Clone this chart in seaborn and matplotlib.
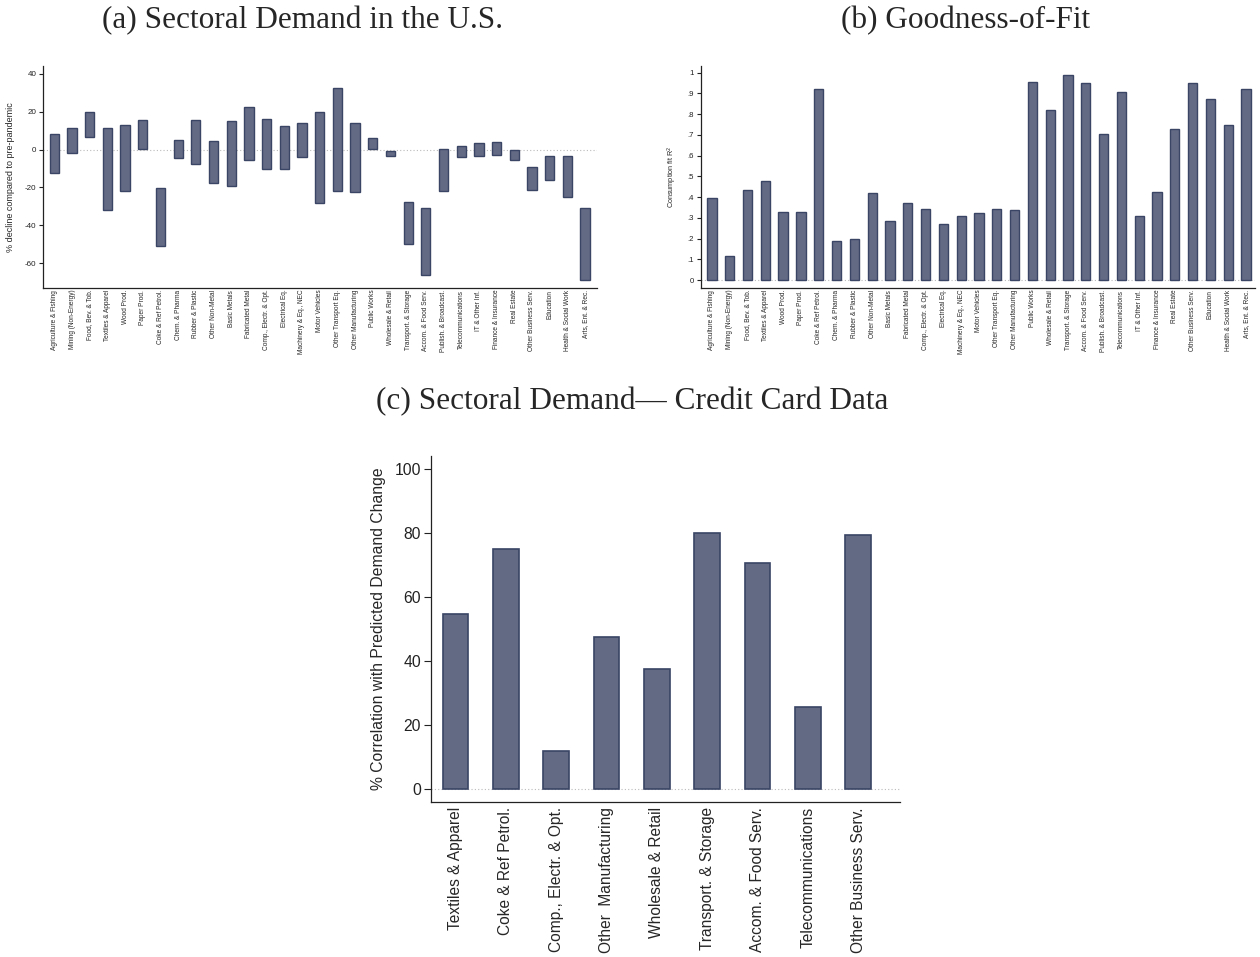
import numpy as np
import pandas as pd
import matplotlib
matplotlib.use("Agg")
import matplotlib.pyplot as plt
from matplotlib.ticker import FixedLocator, FuncFormatter
import seaborn as sns

# ---- data -------------------------------------------------------------
sectors = [
    "Agriculture & Fishing", "Mining (Non-Energy)", "Food, Bev. & Tob.",
    "Textiles & Apparel", "Wood Prod.", "Paper Prod.", "Coke & Ref Petrol.",
    "Chem. & Pharma", "Rubber & Plastic", "Other Non-Metal", "Basic Metals",
    "Fabricated Metal", "Comp., Electr. & Opt.", "Electrical Eq.",
    "Machinery & Eq., NEC", "Motor Vehicles", "Other Transport Eq.",
    "Other Manufacturing", "Public Works", "Wholesale & Retail",
    "Transport. & Storage", "Accom. & Food Serv.", "Publish. & Broadcast.",
    "Telecommunications", "IT & Other Inf.", "Finance & Insurance",
    "Real Estate", "Other Business Serv.", "Education",
    "Health & Social Work", "Arts, Ent. & Rec.",
]

# range of the demand change per sector (% vs. pre-pandemic)
demand_high = [8.1, 11.6, 20.0, 11.1, 12.8, 15.8, -20.5, 4.9, 15.8, 4.6,
               14.9, 22.6, 16.1, 12.6, 13.9, 19.6, 32.5, 14.0, 6.1, -0.9,
               -27.7, -30.7, 0.2, 1.6, 3.7, 3.9, 0.0, -9.3, -3.3, -3.5, -30.9]
demand_low = [-12.6, -1.6, 6.8, -31.9, -21.6, 0.2, -50.7, -4.7, -7.4, -17.4,
              -19.3, -5.4, -10.5, -10.4, -4.0, -28.2, -21.6, -22.6, 0.5, -3.2,
              -49.8, -66.3, -22.1, -3.7, -3.3, -2.8, -5.6, -21.4, -15.8,
              -24.9, -68.9]

# consumption fit R^2 per sector
fit_r2 = [0.394, 0.114, 0.432, 0.476, 0.330, 0.326, 0.920, 0.188, 0.198,
          0.418, 0.283, 0.373, 0.342, 0.268, 0.307, 0.325, 0.341, 0.336,
          0.957, 0.818, 0.989, 0.952, 0.704, 0.908, 0.310, 0.423, 0.730,
          0.952, 0.875, 0.746, 0.920]

# credit card correlation
cc_sectors = ["Textiles & Apparel", "Coke & Ref Petrol.", "Comp., Electr. & Opt.",
              "Other  Manufacturing", "Wholesale & Retail", "Transport. & Storage",
              "Accom. & Food Serv.", "Telecommunications", "Other Business Serv."]
cc_corr = [54.5, 74.8, 11.7, 47.6, 37.6, 80.0, 70.7, 25.6, 79.2]

panel_a_ticks = [-60, -40, -20, 0, 20, 40]
panel_b_ticks = [0, .1, .2, .3, .4, .5, .6, .7, .8, .9, 1]
panel_c_ticks = [0, 20, 40, 60, 80, 100]

# ---- style ------------------------------------------------------------
sns.set_style("ticks")
plt.rcParams["font.family"] = ["Liberation Sans", "DejaVu Sans"]
plt.rcParams["axes.unicode_minus"] = False
plt.rcParams["axes.edgecolor"] = "#222222"
plt.rcParams["axes.linewidth"] = 0.9
plt.rcParams["ytick.color"] = "#222222"

BAR = "#626a84"
EDGE = "#3a4464"
TITLE_FONT = ["Liberation Serif", "DejaVu Serif"]

fig = plt.figure(figsize=(12.6, 9.57), dpi=100)
ax_a = fig.add_axes([0.0344, 0.6994, 0.4392, 0.2316])
ax_b = fig.add_axes([0.5561, 0.6994, 0.4399, 0.2316])
ax_c = fig.add_axes([0.3418, 0.1623, 0.3725, 0.3612])


def style_axis(ax, tick_fs, tick_len, xpad):
    sns.despine(ax=ax)
    ax.tick_params(axis="x", length=0, pad=xpad)
    ax.tick_params(axis="y", length=tick_len, width=0.8, labelsize=tick_fs, pad=2)
    ax.axhline(0, color="#bbbbbb", lw=0.8, ls=(0, (1, 2)), zorder=0)


# ---- (a) floating bars -------------------------------------------------
df_a = pd.DataFrame({"sector": sectors,
                     "low": demand_low,
                     "span": np.array(demand_high) - np.array(demand_low)})
sns.barplot(data=df_a, x="sector", y="span", order=sectors, bottom=df_a["low"].values,
            color=BAR, edgecolor=EDGE, linewidth=1.0, width=0.52,
            saturation=1, errorbar=None, ax=ax_a)
style_axis(ax_a, 5.8, 3, 1.5)
ax_a.set_xlim(-0.62, 30.66)
ax_a.set_ylim(-72.8, 44)
ax_a.yaxis.set_major_locator(FixedLocator(panel_a_ticks))
ax_a.set_xticks(range(len(sectors)))
ax_a.set_xticklabels(sectors, rotation=90, fontsize=4.7)
ax_a.set_xlabel("")
ax_a.set_ylabel("% decline compared to pre-pandemic", fontsize=6.5, labelpad=7)
fig.text(0.2397, 0.978, "(a) Sectoral Demand in the U.S.", ha="center", va="center",
         fontsize=22.5, family=TITLE_FONT)

# ---- (b) goodness of fit ----------------------------------------------
df_b = pd.DataFrame({"sector": sectors, "r2": fit_r2})
sns.barplot(data=df_b, x="sector", y="r2", order=sectors,
            color=BAR, edgecolor=EDGE, linewidth=1.0, width=0.52,
            saturation=1, errorbar=None, ax=ax_b)
style_axis(ax_b, 5.6, 3, 1.5)
ax_b.set_xlim(-0.63, 30.5)
ax_b.set_ylim(-0.037, 1.032)
ax_b.yaxis.set_major_locator(FixedLocator(panel_b_ticks))
ax_b.yaxis.set_major_formatter(FuncFormatter(
    lambda v, p: "0" if v == 0 else ("1" if v == 1 else f"{v:.1f}".lstrip("0"))))
ax_b.set_xticks(range(len(sectors)))
ax_b.set_xticklabels(sectors, rotation=90, fontsize=4.7)
ax_b.set_xlabel("")
ax_b.set_ylabel("Consumption fit R$^2$", fontsize=5.2, labelpad=6)
fig.text(0.766, 0.978, "(b) Goodness-of-Fit", ha="center", va="center",
         fontsize=22.5, family=TITLE_FONT)

# ---- (c) credit card data ----------------------------------------------
df_c = pd.DataFrame({"sector": cc_sectors, "corr": cc_corr})
sns.barplot(data=df_c, x="sector", y="corr", order=cc_sectors,
            color=BAR, edgecolor=EDGE, linewidth=1.2, width=0.51,
            saturation=1, errorbar=None, ax=ax_c)
style_axis(ax_c, 11.3, 5, 4)
ax_c.set_xlim(-0.49, 8.83)
ax_c.set_ylim(-4, 104)
ax_c.yaxis.set_major_locator(FixedLocator(panel_c_ticks))
ax_c.set_xticks(range(len(cc_sectors)))
ax_c.set_xticklabels(cc_sectors, rotation=90, fontsize=11.2)
ax_c.set_xlabel("")
ax_c.set_ylabel("% Correlation with Predicted Demand Change", fontsize=11.3, labelpad=6)
fig.text(0.5016, 0.580, "(c) Sectoral Demand\u2014 Credit Card Data", ha="center",
         va="center", fontsize=22.5, family=TITLE_FONT)

fig.savefig("out.png", dpi=100)
